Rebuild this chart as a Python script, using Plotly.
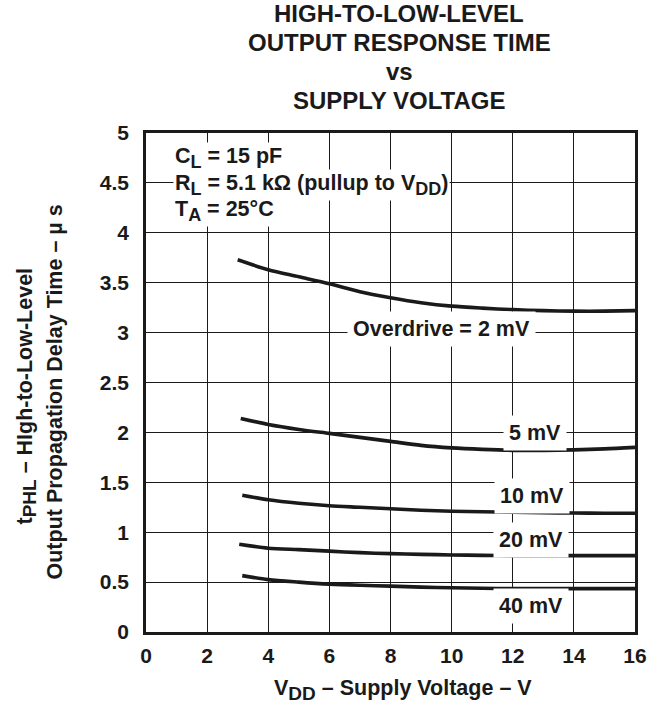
import plotly.graph_objects as go

vdd = [3, 4, 5, 6, 7, 8, 9, 10, 11, 12, 13, 14, 15, 16]
od2 = [3.73, 3.63, 3.56, 3.49, 3.41, 3.35, 3.30, 3.265, 3.245, 3.23, 3.22, 3.215, 3.215, 3.22]

vdd5 = [3.1, 4, 5, 6, 7, 8, 9, 10, 11, 12, 13, 14, 15, 16]
od5 = [2.14, 2.08, 2.03, 1.99, 1.95, 1.91, 1.87, 1.845, 1.83, 1.82, 1.82, 1.825, 1.835, 1.85]

vdd10 = [3.15, 4, 5, 6, 7, 8, 9, 10, 11, 12, 13, 14, 15, 16]
od10 = [1.37, 1.325, 1.29, 1.265, 1.25, 1.235, 1.22, 1.21, 1.205, 1.2, 1.195, 1.193, 1.19, 1.19]

vdd20 = [3.05, 4, 5, 6, 7, 8, 9, 10, 11, 12, 13, 14, 15, 16]
od20 = [0.88, 0.84, 0.825, 0.81, 0.795, 0.785, 0.778, 0.772, 0.768, 0.765, 0.765, 0.765, 0.765, 0.765]

vdd40 = [3.15, 4, 5, 6, 7, 8, 9, 10, 11, 12, 13, 14, 15, 16]
od40 = [0.565, 0.525, 0.5, 0.48, 0.468, 0.46, 0.45, 0.443, 0.438, 0.435, 0.435, 0.435, 0.435, 0.435]

curve_labels = ["Overdrive = 2 mV", "5 mV", "10 mV", "20 mV", "40 mV"]
label_x = [9.67, 12.73, 12.62, 12.6, 12.6]
label_y = [3.04, 1.99, 1.36, 0.925, 0.26]

x_ticks = [0, 2, 4, 6, 8, 10, 12, 14, 16]
y_ticks = [0, 0.5, 1, 1.5, 2, 2.5, 3, 3.5, 4, 4.5, 5]
y_tick_text = ["0", "0.5", "1", "1.5", "2", "2.5", "3", "3.5", "4", "4.5", "5"]

title_lines = ["HIGH-TO-LOW-LEVEL", "OUTPUT RESPONSE TIME", "vs", "SUPPLY VOLTAGE"]


def sub(s, size):
    return '<sub><span style="font-size:%dpx">%s</span></sub>' % (size, s)


cond_lines = ["C" + sub("L", 18) + " = 15 pF",
              "R" + sub("L", 18) + " = 5.1 kΩ (pullup to V" + sub("DD", 18) + ")",
              "T" + sub("A", 18) + " = 25°C"]

FONT = "Liberation Sans, Arial, sans-serif"
INK = "#1a1a1a"

fig = go.Figure()
for xs, ys in [(vdd, od2), (vdd5, od5), (vdd10, od10), (vdd20, od20), (vdd40, od40)]:
    fig.add_trace(go.Scatter(x=xs, y=ys, mode="lines",
                             line=dict(color=INK, width=3.6, shape="spline", smoothing=0.8),
                             showlegend=False, hoverinfo="skip"))

for t, lx, ly in zip(curve_labels, label_x, label_y):
    fig.add_annotation(x=lx, y=ly, xref="x", yref="y", text="<b>" + t + "</b>",
                       showarrow=False, bgcolor="white", borderpad=5,
                       font=dict(family=FONT, size=21.5, color=INK))

cond_y = [4.75, 4.48, 4.22]
for t, cy in zip(cond_lines, cond_y):
    fig.add_annotation(x=0.88, y=cy, xref="x", yref="y", text="<b>" + t + "</b>",
                       showarrow=False, bgcolor="white", xanchor="left", borderpad=1,
                       font=dict(family=FONT, size=21.5, color=INK))


def py(p):
    return (632.5 - p) / 499.0


def px(p):
    return (p - 146.0) / 489.0


title_y = [14, 43, 72, 101]
for t, ty in zip(title_lines, title_y):
    fig.add_annotation(x=px(399), y=py(ty), xref="paper", yref="paper",
                       yanchor="middle", text="<b>" + t + "</b>", showarrow=False,
                       font=dict(family=FONT, size=24, color=INK))

fig.add_annotation(x=px(403), y=py(690), xref="paper", yref="paper",
                   text="<b>V" + sub("DD", 19) + " – Supply Voltage – V</b>", showarrow=False,
                   yanchor="middle", font=dict(family=FONT, size=21.5, color=INK))
fig.add_annotation(x=px(26), y=py(397), xref="paper", yref="paper", textangle=-90,
                   text="<b>t" + sub("PHL", 19) + " – HIgh-to-Low-Level</b>", showarrow=False,
                   xanchor="center", yanchor="middle", font=dict(family=FONT, size=21.5, color=INK))
fig.add_annotation(x=px(54), y=py(393), xref="paper", yref="paper", textangle=-90,
                   text="<b>Output Propagation Delay Time – µ s</b>", showarrow=False,
                   xanchor="center", yanchor="middle", font=dict(family=FONT, size=21.5, color=INK))

fig.update_xaxes(range=[0, 16], tickvals=x_ticks, ticktext=["<b>%d</b>" % v for v in x_ticks],
                 showgrid=True, gridcolor=INK, gridwidth=1,
                 showline=True, linecolor=INK, linewidth=2.5, mirror=True,
                 ticks="", zeroline=False, ticklabelstandoff=3,
                 tickfont=dict(family=FONT, size=21, color=INK))
fig.update_yaxes(range=[0, 5], tickvals=y_ticks, ticktext=["<b>" + s + "</b>" for s in y_tick_text],
                 showgrid=True, gridcolor=INK, gridwidth=1,
                 showline=True, linecolor=INK, linewidth=2.5, mirror=True,
                 ticks="", zeroline=False, ticklabelstandoff=10,
                 tickfont=dict(family=FONT, size=21, color=INK))

fig.update_layout(width=663, height=706, plot_bgcolor="white", paper_bgcolor="white",
                  margin=dict(l=146, r=28, t=133, b=74))

fig.write_html("out.html", config={"displayModeBar": False},
               post_script="document.body.style.margin='0px';")
